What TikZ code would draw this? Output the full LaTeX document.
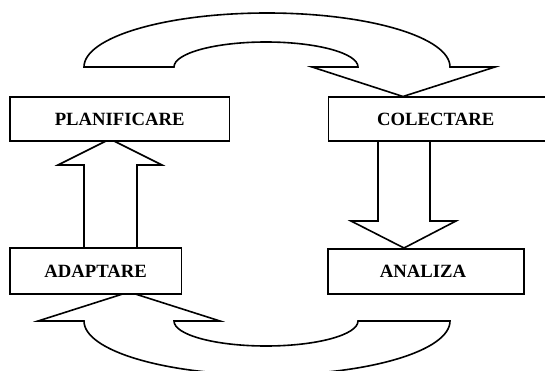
\documentclass[tikz,border=0pt]{standalone}
\usepackage{fontspec}
\setmainfont{Liberation Serif}
\begin{document}
\begin{tikzpicture}[x=1pt,y=1pt,
  outline/.style={draw=black,fill=white,line width=1.6pt,line join=miter},
  stagebox/.style={outline,rectangle,inner sep=0pt,
    font=\fontsize{18.7}{22}\selectfont\bfseries}]
\useasboundingbox (0,0) rectangle (545,370);
\clip (0,0) rectangle (545,370);
% block arrows
\coordinate (topL) at (84,303);
\coordinate (topIn) at (358,303);
\draw[outline] (topL) arc[start angle=180,end angle=0,x radius=183,y radius=54]
  -- (495,303) -- (403,273.5) -- (312,303) -- (topIn)
  arc[start angle=0,end angle=180,x radius=92,y radius=25] -- cycle;
\draw[outline] (84,122) -- (84,205) -- (58,205) -- (110,231) -- (162,205)
  -- (137,205) -- (137,122) -- cycle;
\draw[outline] (378,229) -- (378,149) -- (351,149) -- (404,122) -- (456,149)
  -- (430,149) -- (430,229) -- cycle;
\coordinate (botL) at (84,49);
\coordinate (botIn) at (358,49);
\draw[outline] (botL) arc[start angle=180,end angle=360,x radius=183,y radius=54]
  -- (botIn) arc[start angle=0,end angle=-180,x radius=92,y radius=25]
  -- (220,49) -- (129,78) -- (38,49) -- cycle;
% boxes
\node[stagebox,minimum width=219.5pt,minimum height=44pt] (plan) at (119.75,251) {PLANIFICARE};
\node[stagebox,minimum width=219.5pt,minimum height=44pt] (col) at (438.25,251) {\hspace*{-5.1pt}COLECTARE};
\node[stagebox,minimum width=171.8pt,minimum height=46pt] (adapt) at (95.6,99) {ADAPTARE};
\node[stagebox,minimum width=196pt,minimum height=45pt] (anal) at (426,98.5) {\hspace*{-6pt}ANALIZA};
\end{tikzpicture}
\end{document}
